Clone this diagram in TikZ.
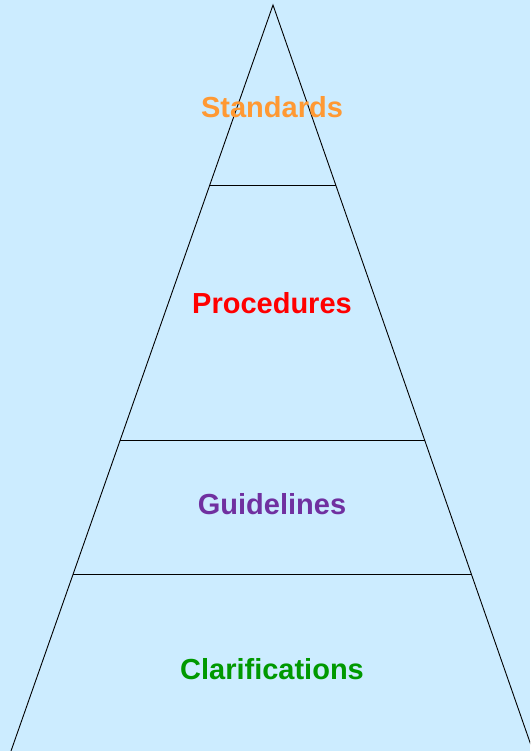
\documentclass[tikz,border=0pt]{standalone}
\usepackage{xcolor}
\usepackage{fontspec}
\setmainfont{Liberation Sans}
\usetikzlibrary{calc}

\definecolor{skyback}{HTML}{CCECFF}
\definecolor{stdorange}{HTML}{FF9933}
\definecolor{procred}{HTML}{FF0000}
\definecolor{guidepurple}{HTML}{7030A0}
\definecolor{clargreen}{HTML}{009900}

\begin{document}
\begin{tikzpicture}[
		x=1pt, y=-1pt,
		edge/.style = {draw=black, line width=0.9pt},
		every node/.style = {anchor=base,
			font=\bfseries\fontsize{29}{34}\selectfont}]
		\fill[skyback] (0,0) rectangle (530,751);
		\clip (0,0) rectangle (530,751);
		% pyramid outline
		\coordinate (apex) at (273,5);
		\coordinate (baseL) at (11,751);
		\coordinate (baseR) at (533,751);
		\draw[edge] (baseL) -- (apex) -- (baseR);
		% layer borders
		\coordinate (b1L) at ($(apex)!0.2413!(baseL)$);
		\coordinate (b1R) at ($(apex)!0.2413!(baseR)$);
		\coordinate (b2L) at ($(apex)!0.5831!(baseL)$);
		\coordinate (b2R) at ($(apex)!0.5831!(baseR)$);
		\coordinate (b3L) at ($(apex)!0.7634!(baseL)$);
		\coordinate (b3R) at ($(apex)!0.7634!(baseR)$);
		\draw[edge] (b1L) -- (b1R);
		\draw[edge] (b2L) -- (b2R);
		\draw[edge] (b3L) -- (b3R);
		% layer names
		\node[text=stdorange] (standards) at (272,118) {Standards};
		\node[text=procred] (procedures) at (272,313) {Procedures};
		\node[text=guidepurple] (guidelines) at (272,514) {Guidelines};
		\node[text=clargreen] (clarifications) at (272,679) {Clarifications};
		\end{tikzpicture}
\end{document}
